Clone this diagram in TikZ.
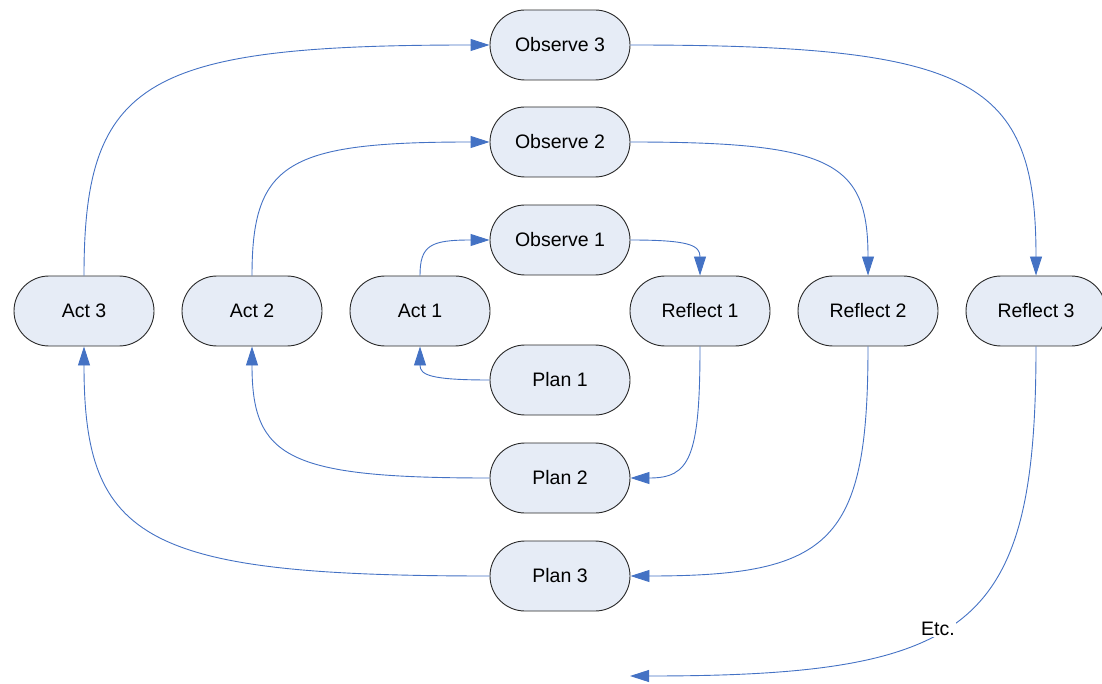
\documentclass[tikz,border=0pt]{standalone}
\usepackage{fontspec}
\setmainfont{Liberation Sans}
\usetikzlibrary{arrows.meta,calc}
\definecolor{boxfill}{RGB}{230,236,246}
\definecolor{boxline}{RGB}{40,40,40}
\definecolor{flow}{RGB}{68,114,196}
% curved link leaving #1 vertically and entering #2 horizontally
\newcommand\vhlink[2]{%
  \coordinate (knee) at (#1 |- #2);
  \draw[flowline] (#1) .. controls ($(#1)!0.85!(knee)$) and ($(#2)!0.85!(knee)$) .. (#2);}
% curved link leaving #1 horizontally and entering #2 vertically
\newcommand\hvlink[2]{%
  \coordinate (knee) at (#2 |- #1);
  \draw[flowline] (#1) .. controls ($(#1)!0.85!(knee)$) and ($(#2)!0.85!(knee)$) .. (#2);}
\begin{document}
\begin{tikzpicture}[x=1pt,y=-1pt,
  stage/.style={draw=boxline, line width=0.9pt, fill=boxfill, rounded corners=35pt,
    minimum width=140pt, minimum height=70pt, inner sep=0pt,
    font=\fontsize{19.5}{23}\selectfont},
  flowline/.style={draw=flow, line width=0.9pt, -{Triangle[length=19pt,width=12pt]}},
]
\useasboundingbox (0,0) rectangle (1102,684);

% observe row
\node[stage] (o3) at (560,45)  {Observe 3};
\node[stage] (o2) at (560,142) {Observe 2};
\node[stage] (o1) at (560,240) {Observe 1};
% act / reflect row
\node[stage] (a3) at (84,311)   {Act 3};
\node[stage] (a2) at (252,311)  {Act 2};
\node[stage] (a1) at (420,311)  {Act 1};
\node[stage] (r1) at (700,311)  {Reflect 1};
\node[stage] (r2) at (868,311)  {Reflect 2};
\node[stage] (r3) at (1036,311) {Reflect 3};
% plan column
\node[stage] (p1) at (560,380) {Plan 1};
\node[stage] (p2) at (560,478) {Plan 2};
\node[stage] (p3) at (560,576) {Plan 3};

\coordinate (more) at (630,676);

% act -> observe
\vhlink{a1.north}{o1.west}
\vhlink{a2.north}{o2.west}
\vhlink{a3.north}{o3.west}
% observe -> reflect
\hvlink{o1.east}{r1.north}
\hvlink{o2.east}{r2.north}
\hvlink{o3.east}{r3.north}
% reflect -> next plan
\vhlink{r1.south}{p2.east}
\vhlink{r2.south}{p3.east}
\vhlink{r3.south}{more}
% plan -> act
\hvlink{p1.west}{a1.south}
\hvlink{p2.west}{a2.south}
\hvlink{p3.west}{a3.south}

\node[fill=white, inner sep=1.5pt, font=\fontsize{19.5}{23}\selectfont] (etc) at (938,629) {Etc.};
\end{tikzpicture}
\end{document}
